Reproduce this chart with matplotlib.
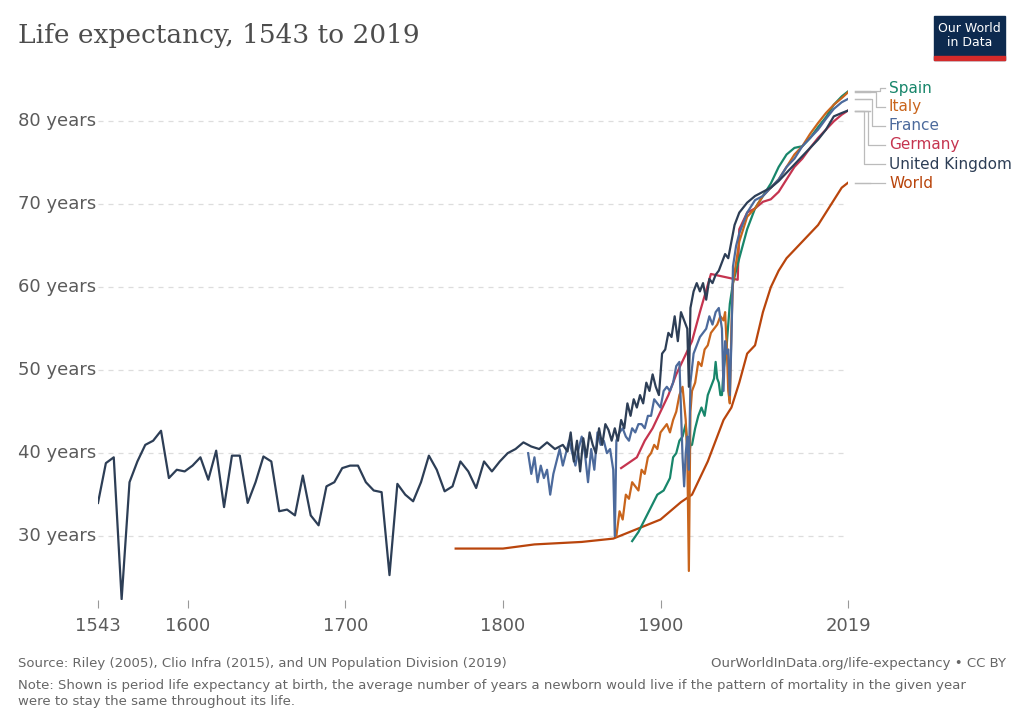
import matplotlib.pyplot as plt
from matplotlib.patches import Rectangle

# ---- data ----
uk_years = [1543, 1548, 1553, 1558, 1563, 1568, 1573, 1578, 1583, 1588, 1593, 1598,
            1603, 1608, 1613, 1618, 1623, 1628, 1633, 1638, 1643, 1648, 1653, 1658,
            1663, 1668, 1673, 1678, 1683, 1688, 1693, 1698, 1703, 1708, 1713, 1718,
            1723, 1728, 1733, 1738, 1743, 1748, 1753, 1758, 1763, 1768, 1773, 1778,
            1783, 1788, 1793, 1798, 1803, 1808, 1813, 1818, 1823, 1828, 1833, 1838,
            1841, 1843, 1845, 1847, 1849, 1851, 1853, 1855, 1857, 1859, 1861, 1863,
            1865, 1867, 1869, 1871, 1873, 1875, 1877, 1879, 1881, 1883, 1885, 1887,
            1889, 1891, 1893, 1895, 1897, 1899, 1901, 1903, 1905, 1907, 1909, 1911,
            1913, 1915, 1917, 1918, 1919, 1921, 1923, 1925, 1927, 1929, 1931, 1933,
            1935, 1937, 1939, 1941, 1943, 1945, 1947, 1950, 1955, 1960, 1965, 1970,
            1975, 1980, 1985, 1990, 1995, 2000, 2005, 2010, 2015, 2019]
uk_life = [34.0, 38.8, 39.5, 22.4, 36.5, 39.0, 41.0, 41.5, 42.7, 37.0, 38.0, 37.8,
           38.5, 39.5, 36.8, 40.3, 33.5, 39.7, 39.7, 34.0, 36.5, 39.6, 39.0, 33.0,
           33.2, 32.5, 37.3, 32.5, 31.3, 36.0, 36.5, 38.2, 38.5, 38.5, 36.5, 35.5,
           35.3, 25.3, 36.3, 35.0, 34.2, 36.5, 39.7, 38.0, 35.4, 36.0, 39.0, 37.8,
           35.8, 39.0, 37.8, 39.0, 40.0, 40.5, 41.3, 40.8, 40.5, 41.3, 40.5, 41.0,
           40.2, 42.5, 39.0, 41.5, 37.8, 41.8, 39.5, 42.5, 41.0, 40.0, 43.0, 41.0,
           43.5, 42.8, 41.5, 43.0, 41.5, 44.0, 43.0, 46.0, 44.5, 46.5, 45.5, 47.0,
           46.0, 48.5, 47.5, 49.5, 48.0, 47.0, 52.0, 52.5, 54.5, 54.0, 56.5, 53.5,
           57.0, 56.0, 55.0, 48.0, 57.5, 59.5, 60.5, 59.5, 60.5, 58.5, 61.0, 60.5,
           61.5, 62.0, 63.0, 64.0, 63.5, 65.5, 67.5, 69.0, 70.2, 71.0, 71.5, 72.0,
           72.8, 73.8, 74.8, 75.8, 76.8, 77.8, 79.0, 80.6, 81.0, 81.3]

fr_years = [1816, 1818, 1820, 1822, 1824, 1826, 1828, 1830, 1832, 1834, 1836, 1838,
            1840, 1842, 1844, 1846, 1848, 1850, 1852, 1854, 1856, 1858, 1860, 1862,
            1864, 1866, 1868, 1870, 1871, 1872, 1874, 1876, 1878, 1880, 1882, 1884,
            1886, 1888, 1890, 1892, 1894, 1896, 1898, 1900, 1902, 1904, 1906, 1908,
            1910, 1912, 1914, 1915, 1916, 1917, 1918, 1919, 1921, 1923, 1925, 1927,
            1929, 1931, 1933, 1935, 1937, 1939, 1940, 1941, 1942, 1943, 1944, 1945,
            1946, 1948, 1950, 1955, 1960, 1965, 1970, 1975, 1980, 1985, 1990, 1995,
            2000, 2005, 2010, 2015, 2019]
fr_life = [40.0, 37.5, 39.5, 36.5, 38.5, 37.0, 38.0, 35.0, 37.5, 39.0, 40.5, 38.5,
           40.0, 41.5, 40.0, 38.5, 40.5, 42.0, 40.0, 36.5, 40.5, 38.0, 42.5, 41.0,
           41.5, 40.0, 40.5, 38.0, 30.0, 41.5, 42.5, 43.0, 42.0, 41.5, 43.0, 42.5,
           43.5, 43.5, 43.0, 44.5, 44.5, 46.5, 46.0, 45.5, 47.5, 48.0, 47.5, 48.5,
           50.5, 51.0, 39.5, 36.0, 40.0, 42.0, 38.0, 48.5, 52.0, 53.0, 54.0, 54.5,
           55.0, 56.5, 55.5, 57.0, 57.5, 55.0, 47.5, 53.5, 52.0, 52.5, 47.0, 53.5,
           62.5, 65.0, 66.5, 69.0, 70.5, 71.0, 72.0, 73.0, 74.5, 75.5, 77.0, 78.0,
           79.0, 80.3, 81.5, 82.3, 82.7]

it_years = [1872, 1874, 1876, 1878, 1880, 1882, 1884, 1886, 1888, 1890, 1892, 1894,
            1896, 1898, 1900, 1902, 1904, 1906, 1908, 1910, 1912, 1914, 1916, 1917,
            1918, 1919, 1920, 1922, 1924, 1926, 1928, 1930, 1932, 1934, 1936, 1938,
            1940, 1941, 1942, 1943, 1944, 1945, 1946, 1948, 1950, 1955, 1960, 1965,
            1970, 1975, 1980, 1985, 1990, 1995, 2000, 2005, 2010, 2015, 2019]
it_life = [30.0, 33.0, 32.0, 35.0, 34.5, 36.5, 36.0, 35.5, 38.0, 37.5, 39.5, 40.0,
           41.0, 40.5, 42.5, 43.0, 43.5, 42.5, 44.0, 45.0, 47.0, 48.0, 44.0, 40.0,
           25.8, 45.0, 47.5, 48.5, 51.0, 50.5, 52.5, 53.0, 54.5, 55.0, 55.5, 56.5,
           56.0, 57.0, 53.0, 47.5, 46.0, 55.0, 60.5, 63.0, 65.5, 68.5, 69.5, 71.0,
           72.0, 73.0, 74.5, 76.0, 77.0, 78.5, 79.8, 81.0, 82.0, 82.8, 83.5]

es_years = [1882, 1886, 1890, 1894, 1898, 1902, 1906, 1908, 1910, 1912, 1914, 1916,
            1917, 1918, 1919, 1920, 1922, 1924, 1926, 1928, 1930, 1932, 1934, 1935,
            1936, 1937, 1938, 1939, 1940, 1942, 1944, 1946, 1948, 1950, 1955, 1960,
            1965, 1970, 1975, 1980, 1985, 1990, 1995, 2000, 2005, 2010, 2015, 2019]
es_life = [29.4, 30.5, 32.0, 33.5, 35.0, 35.5, 37.0, 39.5, 40.0, 41.5, 42.0, 43.5,
           41.0, 39.5, 41.0, 41.0, 43.0, 44.5, 45.5, 44.5, 47.0, 48.0, 49.0, 51.0,
           49.0, 48.5, 47.0, 47.0, 50.0, 53.0, 58.0, 60.5, 62.0, 63.5, 67.0, 69.5,
           71.0, 72.5, 74.5, 76.0, 76.8, 77.0, 78.0, 79.3, 80.5, 82.0, 83.0, 83.6]

de_years = [1875, 1885, 1890, 1895, 1900, 1905, 1910, 1915, 1920, 1925, 1932, 1949,
            1950, 1955, 1960, 1965, 1970, 1975, 1980, 1985, 1990, 1995, 2000, 2005,
            2010, 2015, 2019]
de_life = [38.2, 39.5, 41.5, 43.0, 45.0, 47.0, 49.5, 51.5, 53.5, 57.0, 61.6, 60.9,
           67.0, 69.0, 69.5, 70.3, 70.6, 71.5, 73.0, 74.5, 75.5, 76.8, 78.0, 79.0,
           80.0, 80.8, 81.3]

world_years = [1770, 1800, 1820, 1850, 1870, 1900, 1913, 1920, 1925, 1930, 1935, 1940,
               1945, 1950, 1955, 1960, 1965, 1970, 1975, 1980, 1985, 1990, 1995, 2000,
               2005, 2010, 2015, 2019]
world_life = [28.5, 28.5, 29.0, 29.3, 29.7, 32.0, 34.1, 35.0, 37.0, 39.0, 41.5, 44.0,
              45.5, 48.5, 52.0, 53.0, 57.0, 60.0, 62.0, 63.5, 64.5, 65.5, 66.5, 67.5,
              69.0, 70.5, 72.0, 72.6]

series = [
    ("Spain", es_years, es_life, "#18866b"),
    ("Italy", it_years, it_life, "#c9651c"),
    ("France", fr_years, fr_life, "#4c6a9c"),
    ("Germany", de_years, de_life, "#c5344f"),
    ("United Kingdom", uk_years, uk_life, "#2d3e56"),
    ("World", world_years, world_life, "#b9450c"),
]

fig = plt.figure(figsize=(10.24, 7.23), dpi=100)
ax = fig.add_axes([98 / 1024, 1 - 600 / 723, (848 - 98) / 1024, (600 - 84) / 723])

draw_order = ["World", "Germany", "Spain", "Italy", "France", "United Kingdom"]
for name in draw_order:
    for n, xs, ys, c in series:
        if n == name:
            ax.plot(xs, ys, color=c, lw=1.6, solid_joinstyle="round")

ax.set_xlim(1543, 2019)
ax.set_ylim(22.3, 84.5)
yt = [30, 40, 50, 60, 70, 80]
ax.set_yticks(yt)
ax.set_yticklabels([])
for v in yt:
    ax.text(-80 / 750, v, f"{v} years", transform=ax.get_yaxis_transform(),
            ha="left", va="center", fontsize=13, color="#5b5b5b")
ax.grid(axis="y", ls=(0, (4, 4)), color="#dddddd", lw=0.9)
ax.tick_params(axis="y", length=0)
xt = [1543, 1600, 1700, 1800, 1900, 2019]
ax.set_xticks(xt)
ax.set_xticklabels([str(v) for v in xt], fontsize=13, color="#5b5b5b")
ax.tick_params(axis="x", length=6, color="#999999", pad=6)
for s in ["top", "right", "left"]:
    ax.spines[s].set_visible(False)
ax.spines["bottom"].set_visible(False)

# end labels with connectors
label_y = [88, 107, 126, 145, 164, 183]
for (n, xs, ys, c), ly in zip(series, label_y):
    yv = ys[-1]
    ypx_end = ax.transData.transform((2019, yv))[1]
    fy = 1 - ly / 723
    fig.add_artist(plt.Line2D([855 / 1024, 870 / 1024 + 0.004 * label_y.index(ly) * 0],
                              [ypx_end / 723, ypx_end / 723], color="#bbbbbb", lw=0.9))
    xm = (880 - 4 * label_y.index(ly)) / 1024
    fig.add_artist(plt.Line2D([855 / 1024, xm, xm, 885 / 1024],
                              [ypx_end / 723, ypx_end / 723, fy, fy], color="#bbbbbb", lw=0.9))
    fig.text(889 / 1024, fy, n, color=c, fontsize=11, va="center", ha="left")

fig.text(18 / 1024, 1 - 35 / 723, "Life expectancy, 1543 to 2019", fontsize=19,
         family="DejaVu Serif", color="#4d4d4d", va="center")

# logo
fig.patches.append(Rectangle((934 / 1024, 1 - 60 / 723), 71 / 1024, 44 / 723,
                             transform=fig.transFigure, color="#0d2a4f"))
fig.patches.append(Rectangle((934 / 1024, 1 - 60 / 723), 71 / 1024, 4 / 723,
                             transform=fig.transFigure, color="#d42a2a"))
fig.text(969.5 / 1024, 1 - 36 / 723, "Our World\nin Data", color="white", fontsize=9,
         ha="center", va="center", linespacing=1.1)

fs = 9.5
fig.text(18 / 1024, 1 - 663 / 723, "Source: Riley (2005), Clio Infra (2015), and UN Population Division (2019)",
         fontsize=fs, color="#666666", va="center")
fig.text(1006 / 1024, 1 - 663 / 723, "OurWorldInData.org/life-expectancy • CC BY",
         fontsize=fs, color="#666666", va="center", ha="right")
fig.text(18 / 1024, 1 - 679 / 723,
         "Note: Shown is period life expectancy at birth, the average number of years a newborn would live if the pattern of mortality in the given year\nwere to stay the same throughout its life.",
         fontsize=fs, color="#666666", va="top", linespacing=1.25)

fig.savefig("out.png", dpi=100)
